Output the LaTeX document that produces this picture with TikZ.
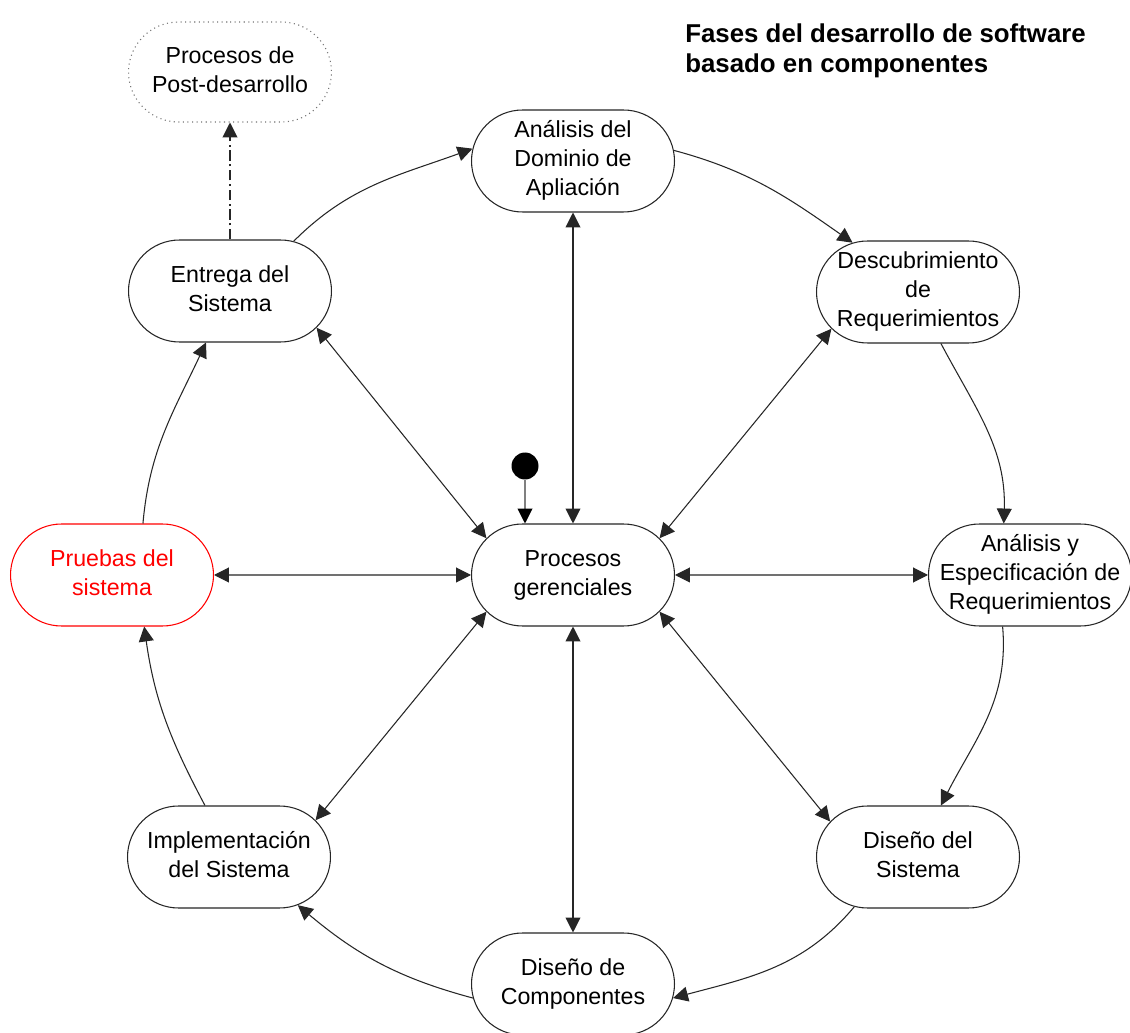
\documentclass[tikz,border=0pt]{standalone}
\usepackage{fontspec}
\setmainfont{Liberation Sans}
\usetikzlibrary{shapes.misc,arrows.meta}
\tikzset{
  tip/.tip={Triangle[length=8.5pt,width=8.5pt]},
}
\newcommand{\ntext}[1]{\makebox[0pt]{\begin{tabular}{@{}c@{}}#1\end{tabular}}}
\begin{document}
\begin{tikzpicture}[x=0.02cm,y=0.02cm,
  box/.style={rounded rectangle, draw=black!85, line width=0.6pt,
    minimum width=4.06cm, minimum height=2.04cm, inner xsep=0pt, inner ysep=2pt,
    font=\fontsize{13.2}{16.4}\selectfont},
  redbox/.style={box, draw=red, text=red},
  postbox/.style={box, draw=black!55, dotted, minimum height=2.0cm},
  conn/.style={draw=black!85, line width=0.6pt, -{tip}},
  biconn/.style={draw=black!85, line width=0.6pt, {tip}-{tip}},
  startdot/.style={circle, fill=black, draw=none, minimum size=0.54cm, inner sep=0pt},
  titletext/.style={anchor=north west, align=left, inner sep=0pt,
    font=\bfseries\fontsize{14.7}{17.6}\selectfont},
]
\fill[white] (0,0) rectangle (1130,-1033);
\useasboundingbox (0,0) rectangle (1130,-1033);

\node[titletext] (title) at (685,-23) {Fases del desarrollo de software\\basado en componentes};

\node[postbox] (post) at (230,-72) {\ntext{Procesos de\\Post-desarrollo}};
\node[box] (dom) at (573,-161) {\ntext{Análisis del\\Dominio de\\Apliación}};
\node[box] (ent) at (230,-291) {\ntext{Entrega del\\Sistema}};
\node[box] (desc) at (918,-292) {\ntext{Descubrimiento\\de\\Requerimientos}};
\node[redbox] (prue) at (112,-575) {\ntext{Pruebas del\\sistema}};
\node[box] (ger) at (573,-575) {\ntext{Procesos\\gerenciales}};
\node[box] (aye) at (1030,-575) {\ntext{Análisis y\\Especificación de\\Requerimientos}};
\node[box] (impl) at (229,-857) {\ntext{Implementación\\del Sistema}};
\node[box] (dis) at (918,-857) {\ntext{Diseño del\\Sistema}};
\node[box] (comp) at (573,-984) {\ntext{Diseño de\\Componentes}};
\node[startdot] (start) at (525,-466) {};

% cycle
\draw[conn] (ent.38) to[out=45,in=200] (dom.173);
\draw[conn] (dom.6) to[out=-15,in=145] (desc.143);
\draw[conn] (desc.-66) to[out=-62,in=88] (aye.117);
\draw[conn] (aye.-118) to[out=-85,in=63] (dis.66);
\draw[conn] (dis.-142) to[out=-130,in=15] (comp.-8);
\draw[conn] (comp.188) to[out=165,in=-40] (impl.-35);
\draw[conn] (impl.115) to[out=118,in=-82] (prue.-58);
\draw[conn] (prue.59) to[out=85,in=-115] (ent.-115);

% spokes
\draw[biconn] (dom) -- (ger);
\draw[biconn] (ger) -- (comp);
\draw[biconn] (prue) -- (ger);
\draw[biconn] (ger) -- (aye);
\draw[biconn] (ent.-23) -- (ger.157);
\draw[biconn] (desc.203) -- (ger.23);
\draw[biconn] (impl.23) -- (ger.203);
\draw[biconn] (dis.158) -- (ger.-23);

% start
\draw[draw=gray, line width=0.6pt, -{Triangle[length=8.5pt,width=8.5pt,color=black]}] (start) -- (start |- ger.north);

% post
\draw[conn, dash pattern=on 6pt off 2pt on 1.2pt off 2pt] (ent.north) -- (post.south);
\end{tikzpicture}
\end{document}
